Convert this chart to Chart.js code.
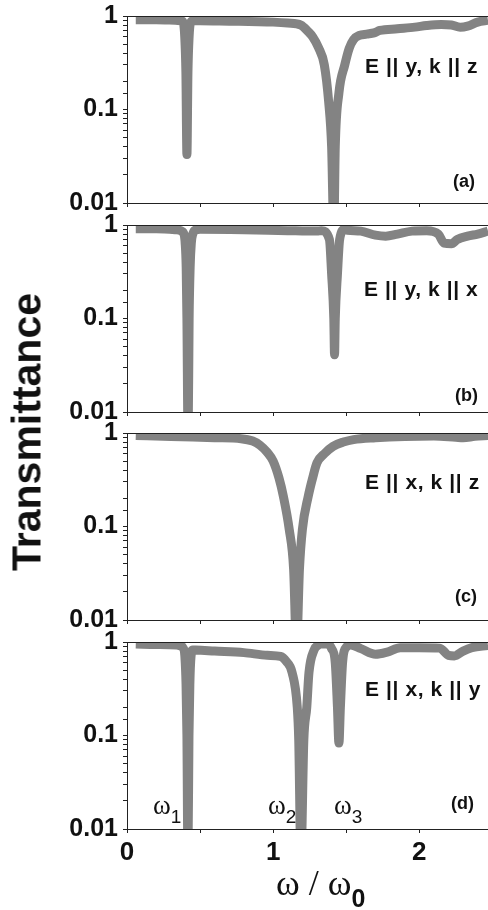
<!DOCTYPE html>
<html>
<head>
<meta charset="utf-8">
<script src="https://cdn.jsdelivr.net/npm/chart.js@4/dist/chart.umd.min.js"></script>
<style>
    html, body { margin: 0; padding: 0; background: #fff; }
    body { width: 488px; height: 910px; position: relative; overflow: hidden; }
    canvas { position: absolute; left: 0; }
    .lbl { position: absolute; white-space: pre; color: #111; line-height: 1; }
    .pol { font: bold 21px "Liberation Sans", Arial, sans-serif; letter-spacing: 0.6px; }
    .tag { font: bold 18px "Liberation Sans", Arial, sans-serif; }
    .w { font: 27px "Liberation Serif", "Times New Roman", serif; }
    .w sub { font: 19px "Liberation Sans", Arial, sans-serif; vertical-align: -9px; }
    .xt { font: 36px "Liberation Serif", "Times New Roman", serif; }
    .xt sub { font: bold 25px "Liberation Sans", Arial, sans-serif; vertical-align: -12px; }
    .yt { font: bold 41px "Liberation Sans", Arial, sans-serif; transform: translate(-50%, -50%) rotate(-90deg); }
</style>
</head>
<body>
<canvas id="panelA" width="488" height="257"></canvas>
<canvas id="panelB" width="488" height="257"></canvas>
<canvas id="panelC" width="488" height="257"></canvas>
<canvas id="panelD" width="488" height="257"></canvas>

<div class="lbl pol" style="left:365px; top:54px;">E || y, k || z</div>
<div class="lbl pol" style="left:364px; top:277px;">E || y, k || x</div>
<div class="lbl pol" style="left:365px; top:470px;">E || x, k || z</div>
<div class="lbl pol" style="left:365px; top:677px;">E || x, k || y</div>

<div class="lbl tag" style="left:453px; top:171px;">(a)</div>
<div class="lbl tag" style="left:455px; top:385px;">(b)</div>
<div class="lbl tag" style="left:455px; top:586px;">(c)</div>
<div class="lbl tag" style="left:451px; top:793px;">(d)</div>

<div class="lbl w" style="left:153px; top:790px;">ω<sub>1</sub></div>
<div class="lbl w" style="left:268px; top:790px;">ω<sub>2</sub></div>
<div class="lbl w" style="left:334px; top:790px;">ω<sub>3</sub></div>

<div class="lbl xt" style="left:276px; top:862px;">ω / ω<sub>0</sub></div>
<div class="lbl yt" style="left:27px; top:432px;">Transmittance</div>

<script>
    // ω/ω0 positions and transmittance
    const freqA = [0.06, 0.2, 0.33, 0.37, 0.385, 0.395, 0.403, 0.41, 0.417, 0.425, 0.435, 0.45, 0.5, 0.7, 0.9, 1.0, 1.1, 1.19, 1.24, 1.27, 1.31, 1.35, 1.38, 1.40, 1.415, 1.425, 1.45, 1.49, 1.52, 1.55, 1.59, 1.64, 1.69, 1.73, 1.85, 1.97, 2.05, 2.15, 2.22, 2.28, 2.33, 2.40, 2.47];
    const transA = [0.91, 0.91, 0.90, 0.89, 0.85, 0.6, 0.25, 0.033, 0.25, 0.6, 0.85, 0.89, 0.89, 0.88, 0.87, 0.86, 0.84, 0.80, 0.68, 0.6, 0.46, 0.3, 0.12, 0.04, 0.005, 0.04, 0.15, 0.3, 0.45, 0.56, 0.62, 0.64, 0.66, 0.70, 0.73, 0.76, 0.79, 0.81, 0.80, 0.76, 0.78, 0.86, 0.90];

    const freqB = [0.06, 0.2, 0.33, 0.36, 0.373, 0.39, 0.398, 0.405, 0.41, 0.418, 0.425, 0.432, 0.44, 0.45, 0.465, 0.5, 0.8, 1.1, 1.3, 1.33, 1.385, 1.40, 1.415, 1.42, 1.425, 1.44, 1.455, 1.49, 1.51, 1.6, 1.70, 1.77, 1.85, 1.95, 2.05, 2.13, 2.17, 2.22, 2.26, 2.33, 2.40, 2.47];
    const transB = [0.91, 0.91, 0.89, 0.88, 0.86, 0.8, 0.64, 0.35, 0.1, 0.005, 0.1, 0.35, 0.64, 0.8, 0.88, 0.90, 0.89, 0.87, 0.86, 0.87, 0.7, 0.3, 0.1, 0.041, 0.1, 0.3, 0.7, 0.9, 0.88, 0.86, 0.78, 0.76, 0.80, 0.86, 0.87, 0.80, 0.64, 0.63, 0.70, 0.76, 0.80, 0.86];

    const freqC = [0.06, 0.3, 0.6, 0.78, 0.86, 0.91, 0.96, 1.0, 1.04, 1.07, 1.11, 1.14, 1.16, 1.18, 1.2, 1.24, 1.27, 1.30, 1.35, 1.41, 1.48, 1.55, 1.7, 1.9, 2.1, 2.25, 2.3, 2.38, 2.47];
    const transC = [0.94, 0.92, 0.89, 0.87, 0.82, 0.74, 0.62, 0.50, 0.33, 0.21, 0.093, 0.035, 0.005, 0.035, 0.093, 0.21, 0.33, 0.48, 0.6, 0.72, 0.80, 0.85, 0.89, 0.92, 0.93, 0.90, 0.89, 0.92, 0.94];

    const freqD = [0.06, 0.2, 0.34, 0.37, 0.385, 0.396, 0.404, 0.41, 0.417, 0.424, 0.43, 0.438, 0.45, 0.47, 0.6, 0.8, 0.96, 1.05, 1.09, 1.13, 1.165, 1.175, 1.19, 1.21, 1.23, 1.245, 1.28, 1.31, 1.33, 1.37, 1.40, 1.425, 1.44, 1.45, 1.46, 1.475, 1.50, 1.53, 1.6, 1.7, 1.78, 1.87, 2.0, 2.14, 2.2, 2.24, 2.3, 2.36, 2.47];
    const transD = [0.95, 0.94, 0.93, 0.90, 0.86, 0.7, 0.35, 0.1, 0.005, 0.1, 0.35, 0.7, 0.82, 0.82, 0.80, 0.77, 0.72, 0.70, 0.62, 0.47, 0.2, 0.09, 0.005, 0.09, 0.2, 0.47, 0.82, 0.93, 0.95, 0.95, 0.85, 0.6, 0.2, 0.083, 0.2, 0.6, 0.88, 0.93, 0.85, 0.74, 0.78, 0.87, 0.87, 0.86, 0.72, 0.71, 0.80, 0.87, 0.92];

    const yTicks = ['1', '0.1', '0.01'];
    const xTicks = ['0', '1', '2'];

    const lineGray = '#838383';
    const axisInk = '#222';
    const fontFamily = "'Liberation Sans', Arial, sans-serif";

    // panel plot-area tops in page pixels; each plot area is 187px tall
    const panels = [
        { id: 'panelA', top: 16, xs: freqA, ys: transA, labels: false },
        { id: 'panelB', top: 225, xs: freqB, ys: transB, labels: false },
        { id: 'panelC', top: 433, xs: freqC, ys: transC, labels: false },
        { id: 'panelD', top: 642, xs: freqD, ys: transD, labels: true }
    ];

    const topFrame = {
        id: 'topFrame',
        afterDatasetsDraw(chart) {
            const a = chart.chartArea;
            const ctx = chart.ctx;
            ctx.save();
            ctx.strokeStyle = axisInk;
            ctx.lineWidth = 1;
            ctx.beginPath();
            ctx.moveTo(a.left, a.top + 0.5);
            ctx.lineTo(a.right, a.top + 0.5);
            ctx.stroke();
            ctx.restore();
        }
    };

    function isDecade(v) {
        const l = Math.log10(v);
        return Math.abs(l - Math.round(l)) < 1e-6;
    }

    panels.forEach(function (p) {
        const canvas = document.getElementById(p.id);
        canvas.style.top = (p.top - 20) + 'px';
        // x axis box must hold the tick labels on the bottom panel (labels are clipped to it)
        const xHeight = p.labels ? 45 : 30;

        new Chart(canvas.getContext('2d'), {
            type: 'line',
            data: {
                datasets: [{
                    data: p.xs.map(function (x, i) { return { x: x, y: p.ys[i] }; }),
                    borderColor: lineGray,
                    borderWidth: 9,
                    borderJoinStyle: 'round',
                    cubicInterpolationMode: 'monotone',
                    pointRadius: 0,
                    fill: false
                }]
            },
            plugins: [topFrame],
            options: {
                responsive: false,
                animation: false,
                events: [],
                layout: { padding: { top: 20, left: 0, right: 0, bottom: 50 - xHeight } },
                plugins: { legend: { display: false }, tooltip: { enabled: false } },
                scales: {
                    x: {
                        type: 'linear',
                        min: 0,
                        max: 2.47,
                        afterFit: function (scale) { scale.height = xHeight; },
                        grid: { drawOnChartArea: false, drawTicks: true, tickLength: 4, tickColor: axisInk },
                        border: { display: true, color: axisInk, width: 1 },
                        ticks: {
                            stepSize: 0.5,
                            includeBounds: false,
                            maxRotation: 0,
                            autoSkip: false,
                            padding: 4,
                            color: '#111',
                            font: { family: fontFamily, size: 26, weight: 'bold' },
                            callback: function (value) {
                                if (!p.labels) return '';
                                const s = String(value);
                                return xTicks.indexOf(s) >= 0 ? s : '';
                            }
                        }
                    },
                    y: {
                        type: 'logarithmic',
                        min: 0.01,
                        max: 1,
                        afterFit: function (scale) { scale.width = 127; },
                        grid: { drawOnChartArea: false, drawTicks: true, tickLength: 4, tickColor: axisInk },
                        border: { display: true, color: axisInk, width: 1 },
                        ticks: {
                            autoSkip: false,
                            padding: 5,
                            color: '#111',
                            font: { family: fontFamily, size: 25, weight: 'bold' },
                            callback: function (value) {
                                if (!isDecade(value)) return '';
                                const s = String(Number(value.toPrecision(3)));
                                return yTicks.indexOf(s) >= 0 ? s : '';
                            }
                        }
                    }
                }
            }
        });
    });
</script>
</body>
</html>
